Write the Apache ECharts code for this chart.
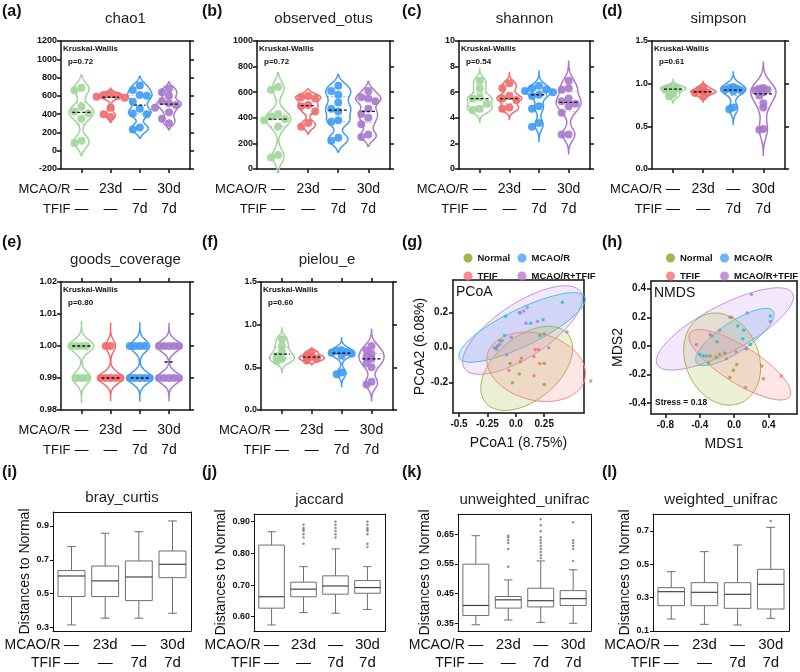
<!DOCTYPE html>
<html>
<head>
  <meta charset="utf-8">
  <title>Alpha and beta diversity</title>
  <script src="https://cdn.jsdelivr.net/npm/echarts@6.0.0/dist/echarts.min.js"></script>
  <style>body{margin:0;background:#fff;}</style>
</head>
<body>
  <div id="chart" style="width:800px;height:672px;"></div>
  <script>
  // ---- categories ----
  var cats = [1, 2, 3, 4];
  var mcaoLabels = ['—', '23d', '—', '30d'];
  var tfifLabels = ['—', '—', '7d', '7d'];
  var groupNames = ['Normal', 'MCAO/R', 'TFIF', 'MCAO/R+TFIF'];

  // ---- alpha diversity (one array per group, left to right) ----
  var chao1 = [
    [690, 660, 480, 430, 410, 350, 110, 85],
    [620, 610, 600, 590, 580, 470, 400, 370],
    [714, 663, 609, 600, 536, 460, 408, 400, 255, 233],
    [680, 640, 600, 540, 520, 500, 470, 420, 350, 300]
  ];
  var observedOtus = [
    [640, 620, 430, 410, 390, 380, 330, 110, 90],
    [570, 560, 550, 500, 490, 450, 360, 330],
    [650, 610, 580, 520, 470, 450, 380, 370, 245, 220],
    [610, 560, 550, 530, 470, 430, 400, 350, 270, 250]
  ];
  var shannon = [
    [6.9, 6.3, 5.6, 5.5, 5.1, 4.7, 4.6],
    [6.7, 6.3, 5.7, 5.5, 5.4, 4.8, 4.7],
    [6.5, 6.3, 6.2, 6.1, 6.0, 5.8, 5.7, 4.9, 4.7, 3.6, 3.3],
    [6.9, 6.3, 6.2, 5.5, 5.3, 5.1, 4.9, 4.4, 2.7, 2.7]
  ];
  var simpson = [
    [0.97, 0.95, 0.94, 0.93, 0.88, 0.85],
    [0.96, 0.93, 0.91, 0.90, 0.89, 0.85],
    [0.96, 0.95, 0.94, 0.93, 0.92, 0.91, 0.72, 0.70],
    [0.95, 0.94, 0.93, 0.92, 0.90, 0.86, 0.77, 0.72, 0.47, 0.46]
  ];
  var goodsCoverage = [
    [1.00, 1.00, 1.00, 1.00, 0.99, 0.99, 0.99],
    [1.00, 1.00, 0.99, 0.99, 0.99, 0.99, 0.99],
    [1.00, 1.00, 1.00, 1.00, 0.99, 0.99, 0.99, 0.99, 0.99],
    [1.00, 1.00, 1.00, 1.00, 1.00, 0.99, 0.99, 0.99, 0.99, 0.99]
  ];
  var pielouE = [
    [0.83, 0.75, 0.68, 0.63, 0.60, 0.57],
    [0.68, 0.64, 0.62, 0.60, 0.58],
    [0.70, 0.69, 0.68, 0.67, 0.66, 0.64, 0.44, 0.42],
    [0.75, 0.70, 0.66, 0.62, 0.60, 0.55, 0.50, 0.33, 0.30]
  ];
  var kwP = ['0.72', '0.72', '0.54', '0.61', '0.80', '0.60'];

  // ---- PCoA (points [x, y]; ellipses [cx, cy, ax, ay, bx, by]) ----
  var pcoaNormal = [[0.25, 0.08], [0.25, -0.09], [0.04, -0.08], [-0.05, -0.09], [0.03, -0.15], [-0.03, -0.20], [0.25, -0.21], [-0.17, 0.00], [-0.14, 0.04]];
  var pcoaMcao = [[0.41, 0.26], [0.04, 0.20], [-0.09, 0.18], [0.24, 0.16], [0.13, 0.14], [0.21, 0.07], [-0.10, 0.07], [-0.19, 0.00], [-0.16, 0.01], [-0.12, 0.04]];
  var pcoaTfif = [[0.17, -0.01], [0.20, -0.01], [0.16, -0.05], [0.21, -0.09], [-0.06, -0.13], [0.16, -0.16], [0.66, -0.19], [0.05, -0.06]];
  var pcoaCombo = [[0.10, 0.23], [0.07, 0.21], [0.03, 0.20], [0.09, 0.14], [0.19, 0.15], [0.45, 0.09], [-0.04, 0.06], [0.29, 0.00], [-0.08, -0.04], [-0.14, 0.02], [-0.17, -0.01]];
  var pcoaEllNormal = [0.096, -0.118, 0.362, 0.196, 0.180, -0.139];
  var pcoaEllMcao = [0.056, 0.116, 0.552, 0.175, 0.072, -0.094];
  var pcoaEllTfif = [0.179, -0.109, 0.428, -0.074, -0.077, -0.184];
  var pcoaEllCombo = [0.059, 0.101, 0.511, 0.219, 0.131, -0.127];

  // ---- NMDS ----
  var nmdsNormal = [[-0.03, 0.20], [-0.17, -0.06], [-0.11, -0.05], [-0.28, -0.07], [-0.21, -0.08], [-0.30, -0.12], [-0.01, -0.17], [-0.05, -0.22], [0.32, -0.14], [0.03, -0.13]];
  var nmdsMcao = [[0.42, 0.21], [0.04, 0.14], [0.11, 0.11], [0.10, 0.05], [-0.26, 0.07], [-0.20, 0.03], [-0.40, -0.06], [-0.36, -0.07], [-0.32, -0.07], [0.19, 0.01]];
  var nmdsTfif = [[0.02, -0.04], [0.14, -0.02], [0.55, -0.21], [0.34, -0.23], [0.13, -0.29], [-0.09, -0.09]];
  var nmdsCombo = [[0.20, 0.36], [0.15, 0.23], [0.42, 0.17], [-0.05, 0.20], [-0.28, 0.08], [-0.44, 0.01], [-0.17, 0.11], [0.14, -0.02]];
  var nmdsEllNormal = [-0.14, -0.092, 0.213, -0.307, 0.393, 0.098];
  var nmdsEllMcao = [0.008, 0.062, 0.446, 0.180, 0.097, -0.087];
  var nmdsEllTfif = [0.066, -0.132, 0.581, -0.221, -0.114, -0.108];
  var nmdsEllCombo = [-0.109, 0.119, 0.787, 0.249, 0.126, -0.144];

  // ---- distances to Normal: [low whisker, Q1, median, Q3, high whisker] ----
  var brayCurtis = [[0.314, 0.482, 0.604, 0.636, 0.778], [0.354, 0.482, 0.575, 0.663, 0.857], [0.354, 0.458, 0.598, 0.693, 0.866], [0.383, 0.594, 0.673, 0.752, 0.930]];
  var brayOut = [[], [], [], []];
  var jaccard = [[0.574, 0.627, 0.663, 0.826, 0.868], [0.613, 0.663, 0.687, 0.709, 0.758], [0.611, 0.671, 0.697, 0.729, 0.814], [0.623, 0.674, 0.692, 0.714, 0.758]];
  var jaccardOut = [[], [0.83, 0.85, 0.86, 0.87, 0.875, 0.88, 0.89], [0.85, 0.86, 0.87, 0.88, 0.89, 0.90], [0.82, 0.83, 0.86, 0.87, 0.875, 0.88, 0.89, 0.90]];
  var unweighted = [[0.345, 0.376, 0.410, 0.549, 0.645], [0.361, 0.401, 0.429, 0.440, 0.496], [0.353, 0.405, 0.426, 0.468, 0.560], [0.350, 0.410, 0.433, 0.460, 0.530]];
  var unweightedOut = [[], [0.54, 0.60, 0.62, 0.63, 0.64, 0.645], [0.57, 0.58, 0.59, 0.60, 0.61, 0.62, 0.63, 0.64, 0.66, 0.68, 0.70], [0.56, 0.60, 0.61, 0.62, 0.63, 0.69]];
  var weighted = [[0.172, 0.252, 0.336, 0.360, 0.456], [0.140, 0.252, 0.332, 0.390, 0.576], [0.136, 0.236, 0.320, 0.390, 0.616], [0.176, 0.232, 0.380, 0.470, 0.722]];
  var weightedOut = [[], [], [], [0.76]];

  // ---- styles ----
  var font = 'Liberation Sans';
  var ink = '#111';
  var vColors = ['#9ed69a', '#f2696c', '#3f9bf4', '#a978cc'];
  var ptColors = ['#93a326', '#25b7cc', '#f0706a', '#b277dc'];
  var legendColors = ['#8fa11f', '#4a9ff5', '#f87171', '#b57ad6'];
  var ellStroke = ['#a9b24e', '#3cc8d0', '#f08a85', '#c58fe6'];
  var ellFill = ['rgba(175,190,90,0.25)', 'rgba(90,150,240,0.22)', 'rgba(245,140,135,0.22)', 'rgba(200,150,235,0.22)'];
  var vxMin = 0.3, vxMax = 4.72, vHalf = 0.42;
  var bxMin = 0.45, bxMax = 4.55;

  var grids = [], xAxes = [], yAxes = [], series = [], graphics = [], legends = [];

  function catLabel(v) {
    var i = Math.round(v) - 1;
    return mcaoLabels[i] + '\n' + tfifLabels[i];
  }

  function txt(x, y, s, o) {
    var st = {text: s, fill: ink, fontFamily: font, fontSize: 12, textAlign: 'left', textVerticalAlign: 'middle'};
    for (var k in o) st[k] = o[k];
    st.align = st.textAlign;
    st.verticalAlign = st.textVerticalAlign;
    graphics.push({type: 'text', x: x, y: y, silent: true, style: st});
  }

  function frameAxis(gi, pos, min, max, lw) {
    return {type: 'value', gridIndex: gi, position: pos, min: min, max: max,
      axisLine: {show: true, onZero: false, lineStyle: {color: ink, width: lw}},
      axisTick: {show: false}, axisLabel: {show: false}, splitLine: {show: false}};
  }

  function ticks(len, lw, vals) {
    var t = {show: true, inside: false, length: len, lineStyle: {color: ink, width: lw}};
    if (vals) t.customValues = vals;
    return t;
  }

  function quantile(sorted, q) {
    var pos = (sorted.length - 1) * q, lo = Math.floor(pos), hi = Math.ceil(pos);
    return sorted[lo] + (sorted[hi] - sorted[lo]) * (pos - lo);
  }

  // kernel density outline of one group, widths scaled to 1 at the widest point
  function violinShape(vals, bwf, tail) {
    var n = vals.length;
    var mean = vals.reduce(function (a, b) { return a + b; }, 0) / n;
    var sd = Math.sqrt(vals.reduce(function (a, b) { return a + (b - mean) * (b - mean); }, 0) / (n - 1));
    var h = bwf * 1.06 * sd * Math.pow(n, -0.2);
    var lo = Math.min.apply(null, vals) - tail * h, hi = Math.max.apply(null, vals) + tail * h;
    var pts = [], maxd = 0;
    for (var i = 0; i <= 120; i++) {
      var y = lo + (hi - lo) * i / 120, d = 0;
      vals.forEach(function (v) { var z = (y - v) / h; d += Math.exp(-0.5 * z * z); });
      pts.push([y, d]);
      if (d > maxd) maxd = d;
    }
    pts.forEach(function (p) { p[1] /= maxd; });
    var sorted = vals.slice().sort(function (a, b) { return a - b; });
    return {
      pts: pts,
      q1: quantile(sorted, 0.25), med: quantile(sorted, 0.5), q3: quantile(sorted, 0.75),
      widthAt: function (y) {
        for (var j = 1; j < pts.length; j++) {
          if (pts[j][0] >= y) {
            var t = (y - pts[j - 1][0]) / (pts[j][0] - pts[j - 1][0]);
            return pts[j - 1][1] + (pts[j][1] - pts[j - 1][1]) * t;
          }
        }
        return 0;
      }
    };
  }

  // spread equal-ish values sideways so the dots do not sit on each other
  function swarm(vals, c, pxX, pxY, step) {
    var placed = [], out = [];
    var order = vals.map(function (v, i) { return i; }).sort(function (a, b) { return vals[b] - vals[a]; });
    order.forEach(function (i) {
      var v = vals[i], off = 0;
      for (var k = 0; k < 14; k++) {
        off = (k === 0 ? 0 : (k % 2 ? -1 : 1) * Math.ceil(k / 2)) * step;
        var ok = placed.every(function (q) {
          var dx = q[0] - off, dy = (q[1] - v) * pxY;
          return dx * dx + dy * dy >= step * step;
        });
        if (ok) break;
      }
      placed.push([off, v]);
      out.push([c + off / pxX, v]);
    });
    return out;
  }

  function rowLabels(left, width, min, max, bottom, d1, d2, size) {
    var x = left + (1 - min) / (max - min) * width - 11;
    txt(x, bottom + d1, 'MCAO/R', {textAlign: 'right', fontSize: size});
    txt(x, bottom + d2, 'TFIF', {textAlign: 'right', fontSize: size});
  }

  function violinPanel(o) {
    var gi = grids.length, xi = xAxes.length, yi = yAxes.length;
    grids.push({left: o.left, top: o.top, width: o.width, height: o.height, outerBoundsMode: 'none'});
    var bx = frameAxis(gi, 'bottom', vxMin, vxMax, 1.5);
    bx.axisTick = ticks(4, 1.5, cats);
    bx.axisLabel = {show: true, customValues: cats, formatter: catLabel, margin: 10, fontSize: 14, lineHeight: 20, color: ink, fontFamily: font};
    var tx = frameAxis(gi, 'top', vxMin, vxMax, 1.5);
    if (o.topTicks) tx.axisTick = ticks(4, 1.5, cats);
    var ly = frameAxis(gi, 'left', o.yMin, o.yMax, 1.5);
    ly.interval = o.yStep;
    ly.axisTick = ticks(4, 1.5);
    ly.axisLabel = {show: true, fontSize: 9, fontWeight: 'bold', color: ink, fontFamily: font, margin: 4,
      formatter: function (v) { return v.toFixed(o.dec); }};
    var ry = frameAxis(gi, 'right', o.yMin, o.yMax, 1.5);
    ry.interval = o.yStep;
    ry.axisTick = ticks(4, 1.5);
    xAxes.push(bx, tx);
    yAxes.push(ly, ry);

    var shapes = o.vals.map(function (v) { return violinShape(v, o.bw, o.tail); });
    var pxX = o.width / (vxMax - vxMin), pxY = o.height / (o.yMax - o.yMin);
    var catData = cats.map(function (c) { return [c, o.yMin]; });

    series.push({
      type: 'custom', xAxisIndex: xi, yAxisIndex: yi, silent: true, z: 2, data: catData,
      renderItem: function (params, api) {
        var c = api.value(0), s = shapes[c - 1], lft = [], rgt = [];
        s.pts.forEach(function (p) {
          lft.push(api.coord([c - p[1] * vHalf, p[0]]));
          rgt.unshift(api.coord([c + p[1] * vHalf, p[0]]));
        });
        var kids = [{type: 'polygon', shape: {points: lft.concat(rgt)}, style: {fill: 'none', stroke: vColors[c - 1], lineWidth: 1.5}}];
        [s.q1, s.q3].forEach(function (q) {
          var w = s.widthAt(q) * vHalf, a = api.coord([c - w, q]), b = api.coord([c + w, q]);
          kids.push({type: 'line', shape: {x1: a[0], y1: a[1], x2: b[0], y2: b[1]}, style: {stroke: '#a0a0a0', lineWidth: 0.8, lineDash: [2, 2]}});
        });
        return {type: 'group', children: kids};
      }
    });
    o.vals.forEach(function (vals, g) {
      series.push({
        type: 'scatter', xAxisIndex: xi, yAxisIndex: yi, silent: true, z: 3, symbolSize: 8,
        itemStyle: {color: vColors[g], opacity: 0.9},
        data: swarm(vals, g + 1, pxX, pxY, o.step || 7)
      });
    });
    series.push({
      type: 'custom', xAxisIndex: xi, yAxisIndex: yi, silent: true, z: 4, data: catData,
      renderItem: function (params, api) {
        var c = api.value(0), s = shapes[c - 1];
        var w = Math.max(0.15, s.widthAt(s.med) * vHalf * 0.75);
        var a = api.coord([c - w, s.med]), b = api.coord([c + w, s.med]);
        return {type: 'line', shape: {x1: a[0], y1: a[1], x2: b[0], y2: b[1]}, style: {stroke: '#111', lineWidth: 1.3, lineDash: [3, 2]}};
      }
    });

    txt(o.left + o.width / 2, o.top - 22, o.title, {textAlign: 'center', fontSize: 15, fill: '#222'});
    txt(o.tx, o.ty, o.tag, {fontSize: 16, fontWeight: 'bold'});
    txt(o.left + 2, o.top + 8, 'Kruskal-Wallis', {fontSize: 8, fontWeight: 'bold'});
    txt(o.left + 7, o.top + 21, 'p=' + o.p, {fontSize: 8, fontWeight: 'bold'});
    rowLabels(o.left, o.width, vxMin, vxMax, o.top + o.height, 20, 40, 13);
  }

  function ordPanel(o) {
    var gi = grids.length, xi = xAxes.length, yi = yAxes.length;
    grids.push({left: o.left, top: o.top, width: o.width, height: o.height, outerBoundsMode: 'none'});
    var fmt = function (v) { return v === 0 ? '0.0' : String(v); };
    var bx = frameAxis(gi, 'bottom', o.xMin, o.xMax, 1.5);
    bx.axisTick = ticks(4, 1.5, o.xTicks);
    bx.axisLabel = {show: true, customValues: o.xTicks, formatter: fmt, fontSize: 10, fontWeight: 'bold', color: ink, fontFamily: font, margin: 6};
    bx.name = o.xName; bx.nameLocation = 'middle'; bx.nameGap = 23;
    bx.nameTextStyle = {fontSize: 14, color: ink, fontFamily: font};
    var tx = frameAxis(gi, 'top', o.xMin, o.xMax, 1.5);
    var ly = frameAxis(gi, 'left', o.yMin, o.yMax, 1.5);
    ly.axisTick = ticks(4, 1.5, o.yTicks);
    ly.axisLabel = {show: true, customValues: o.yTicks, formatter: fmt, fontSize: 10, fontWeight: 'bold', color: ink, fontFamily: font, margin: 5};
    ly.name = o.yName; ly.nameLocation = 'middle'; ly.nameGap = o.yGap; ly.nameRotate = 90;
    ly.nameTextStyle = {fontSize: 14, color: ink, fontFamily: font};
    var ry = frameAxis(gi, 'right', o.yMin, o.yMax, 1.5);
    xAxes.push(bx, tx);
    yAxes.push(ly, ry);

    [3, 1, 0, 2].forEach(function (k) {
      var e = o.ells[k];
      series.push({
        type: 'custom', xAxisIndex: xi, yAxisIndex: yi, silent: true, z: 2, data: [e],
        renderItem: function (params, api) {
          var pts = [];
          for (var t = 0; t <= 90; t++) {
            var a = t / 90 * 2 * Math.PI;
            pts.push(api.coord([e[0] + e[2] * Math.cos(a) + e[4] * Math.sin(a), e[1] + e[3] * Math.cos(a) + e[5] * Math.sin(a)]));
          }
          return {type: 'polygon', shape: {points: pts}, style: {fill: ellFill[k], stroke: ellStroke[k], lineWidth: 1}};
        }
      });
    });
    o.pts.forEach(function (pts, k) {
      series.push({type: 'scatter', name: groupNames[k], xAxisIndex: xi, yAxisIndex: yi, z: 3, clip: false,
        symbolSize: 3.5, itemStyle: {color: ptColors[k]}, data: pts});
    });
    // 2 x 2 legend, one item per legend component
    [0, 1, 2, 3].forEach(function (k) {
      legends.push({
        left: o.legX + (k % 2) * 54, top: o.legY + Math.floor(k / 2) * 18, icon: 'circle',
        itemWidth: 9, itemHeight: 9, itemGap: 4, selectedMode: false,
        textStyle: {fontSize: 9.5, fontWeight: 'bold', color: ink, fontFamily: font},
        data: [{name: groupNames[k], itemStyle: {color: legendColors[k]}}]
      });
    });
    txt(o.tx, o.ty, o.tag, {fontSize: 16, fontWeight: 'bold'});
    txt(o.left + 3, o.top + 12, o.label, {fontSize: 14});
  }

  function boxPanel(o) {
    var gi = grids.length, xi = xAxes.length, yi = yAxes.length;
    grids.push({left: o.left, top: o.top, width: o.width, height: o.height, outerBoundsMode: 'none'});
    var bx = frameAxis(gi, 'bottom', bxMin, bxMax, 1);
    bx.axisLabel = {show: true, customValues: cats, formatter: catLabel, margin: 5, fontSize: 15, lineHeight: 18, color: ink, fontFamily: font};
    var tx = frameAxis(gi, 'top', bxMin, bxMax, 1);
    var ly = frameAxis(gi, 'left', o.yMin, o.yMax, 1);
    ly.axisTick = ticks(3, 1, o.yTicks);
    ly.axisLabel = {show: true, customValues: o.yTicks, fontSize: 9, fontWeight: 'bold', color: ink, fontFamily: font, margin: 4,
      formatter: function (v) { return v.toFixed(o.dec); }};
    ly.name = 'Distances to Normal'; ly.nameLocation = 'middle'; ly.nameRotate = 90; ly.nameGap = o.yGap;
    ly.nameTextStyle = {fontSize: 14, color: ink, fontFamily: font};
    var ry = frameAxis(gi, 'right', o.yMin, o.yMax, 1);
    xAxes.push(bx, tx);
    yAxes.push(ly, ry);

    series.push({
      type: 'custom', xAxisIndex: xi, yAxisIndex: yi, silent: true, z: 2,
      data: o.box.map(function (b, i) { return [i + 1].concat(b); }),
      renderItem: function (params, api) {
        var x = api.value(0), lo = api.value(1), q1 = api.value(2), md = api.value(3), q3 = api.value(4), hi = api.value(5);
        var hw = 0.4, cw = 0.13, gray = '#6e6e6e';
        function seg(x1, y1, x2, y2, col, lw) {
          var a = api.coord([x1, y1]), b = api.coord([x2, y2]);
          return {type: 'line', shape: {x1: a[0], y1: a[1], x2: b[0], y2: b[1]}, style: {stroke: col, lineWidth: lw}};
        }
        var tl = api.coord([x - hw, q3]), br = api.coord([x + hw, q1]);
        return {type: 'group', children: [
          seg(x, hi, x, q3, gray, 1), seg(x, q1, x, lo, gray, 1),
          seg(x - cw, hi, x + cw, hi, gray, 1), seg(x - cw, lo, x + cw, lo, gray, 1),
          {type: 'rect', shape: {x: tl[0], y: tl[1], width: br[0] - tl[0], height: br[1] - tl[1]}, style: {fill: '#fff', stroke: gray, lineWidth: 1}},
          seg(x - hw, md, x + hw, md, '#444', 1.2)
        ]};
      }
    });
    var outs = [];
    o.out.forEach(function (vals, i) { vals.forEach(function (v) { outs.push([i + 1, v]); }); });
    series.push({type: 'scatter', xAxisIndex: xi, yAxisIndex: yi, silent: true, z: 3, symbolSize: 2.5,
      itemStyle: {color: '#777'}, data: outs});

    txt(o.left + o.width / 2, o.top - 14, o.title, {textAlign: 'center', fontSize: 15, fill: '#222'});
    txt(o.tx, o.ty, o.tag, {fontSize: 16, fontWeight: 'bold'});
    rowLabels(o.left, o.width, bxMin, bxMax, o.top + o.height, 14, 32, 14);
  }

  // ---- panels ----
  violinPanel({vals: chao1, title: 'chao1', tag: '(a)', p: kwP[0], left: 61, top: 41, width: 129, height: 128, yMin: -200, yMax: 1200, yStep: 200, dec: 0, tx: 2, ty: 12, bw: 0.4, tail: 2.2});
  violinPanel({vals: observedOtus, title: 'observed_otus', tag: '(b)', p: kwP[1], left: 257, top: 41, width: 133, height: 128, yMin: 0, yMax: 1000, yStep: 200, dec: 0, tx: 202, ty: 12, bw: 0.4, tail: 2.2});
  violinPanel({vals: shannon, title: 'shannon', tag: '(c)', p: kwP[2], left: 459, top: 41, width: 131, height: 128, yMin: 0, yMax: 10, yStep: 2, dec: 0, tx: 402, ty: 12, bw: 0.5, tail: 3.2});
  violinPanel({vals: simpson, title: 'simpson', tag: '(d)', p: kwP[3], left: 652, top: 41, width: 133, height: 128, yMin: 0, yMax: 1.5, yStep: 0.5, dec: 1, tx: 602, ty: 12, bw: 0.8, tail: 3, step: 4});
  violinPanel({vals: goodsCoverage, title: 'goods_coverage', tag: '(e)', p: kwP[4], left: 61, top: 282, width: 129, height: 128, yMin: 0.98, yMax: 1.02, yStep: 0.01, dec: 2, tx: 2, ty: 243, topTicks: true, step: 5, bw: 0.5, tail: 4});
  violinPanel({vals: pielouE, title: 'pielou_e', tag: '(f)', p: kwP[5], left: 261, top: 282, width: 132, height: 128, yMin: 0, yMax: 1.5, yStep: 0.5, dec: 1, tx: 202, ty: 243, topTicks: true, bw: 0.6, tail: 3, step: 5});

  ordPanel({left: 453, top: 280, width: 131, height: 133, xMin: -0.553, xMax: 0.60, yMin: -0.373, yMax: 0.387,
    xTicks: [-0.5, -0.25, 0, 0.25], yTicks: [-0.2, 0, 0.2], xName: 'PCoA1 (8.75%)', yName: 'PCoA2 (6.08%)', yGap: 23,
    ells: [pcoaEllNormal, pcoaEllMcao, pcoaEllTfif, pcoaEllCombo], pts: [pcoaNormal, pcoaMcao, pcoaTfif, pcoaCombo],
    legX: 458.5, legY: 248, tag: '(g)', tx: 402, ty: 243, label: 'PCoA'});
  ordPanel({left: 651, top: 281, width: 146, height: 133, xMin: -0.967, xMax: 0.73, yMin: -0.476, yMax: 0.454,
    xTicks: [-0.8, -0.4, 0, 0.4], yTicks: [-0.4, -0.2, 0, 0.2, 0.4], xName: 'MDS1', yName: 'MDS2', yGap: 24,
    ells: [nmdsEllNormal, nmdsEllMcao, nmdsEllTfif, nmdsEllCombo], pts: [nmdsNormal, nmdsMcao, nmdsTfif, nmdsCombo],
    legX: 661, legY: 248, tag: '(h)', tx: 602, ty: 243, label: 'NMDS'});
  txt(655, 403, 'Stress = 0.18', {fontSize: 8.5, fontWeight: 'bold'});

  boxPanel({box: brayCurtis, out: brayOut, title: 'bray_curtis', tag: '(i)', left: 53, top: 512, width: 138, height: 119,
    yMin: 0.278, yMax: 0.983, yTicks: [0.3, 0.5, 0.7, 0.9], dec: 1, yGap: 20, tx: 2, ty: 473});
  boxPanel({box: jaccard, out: jaccardOut, title: 'jaccard', tag: '(j)', left: 254, top: 514, width: 131, height: 117,
    yMin: 0.555, yMax: 0.924, yTicks: [0.6, 0.7, 0.8, 0.9], dec: 2, yGap: 24, tx: 202, ty: 473});
  boxPanel({box: unweighted, out: unweightedOut, title: 'unweighted_unifrac', tag: '(k)', left: 458, top: 514, width: 133, height: 117,
    yMin: 0.324, yMax: 0.718, yTicks: [0.35, 0.45, 0.55, 0.65], dec: 2, yGap: 24, tx: 402, ty: 473});
  boxPanel({box: weighted, out: weightedOut, title: 'weighted_unifrac', tag: '(l)', left: 653, top: 514, width: 136, height: 117,
    yMin: 0.1, yMax: 0.802, yTicks: [0.1, 0.3, 0.5, 0.7], dec: 1, yGap: 20, tx: 602, ty: 473});

  var myChart = echarts.init(document.getElementById('chart'));
  myChart.setOption({
    animation: false,
    backgroundColor: '#fff',
    textStyle: {fontFamily: font},
    grid: grids,
    xAxis: xAxes,
    yAxis: yAxes,
    legend: legends,
    series: series,
    graphic: graphics
  });
  </script>
</body>
</html>
